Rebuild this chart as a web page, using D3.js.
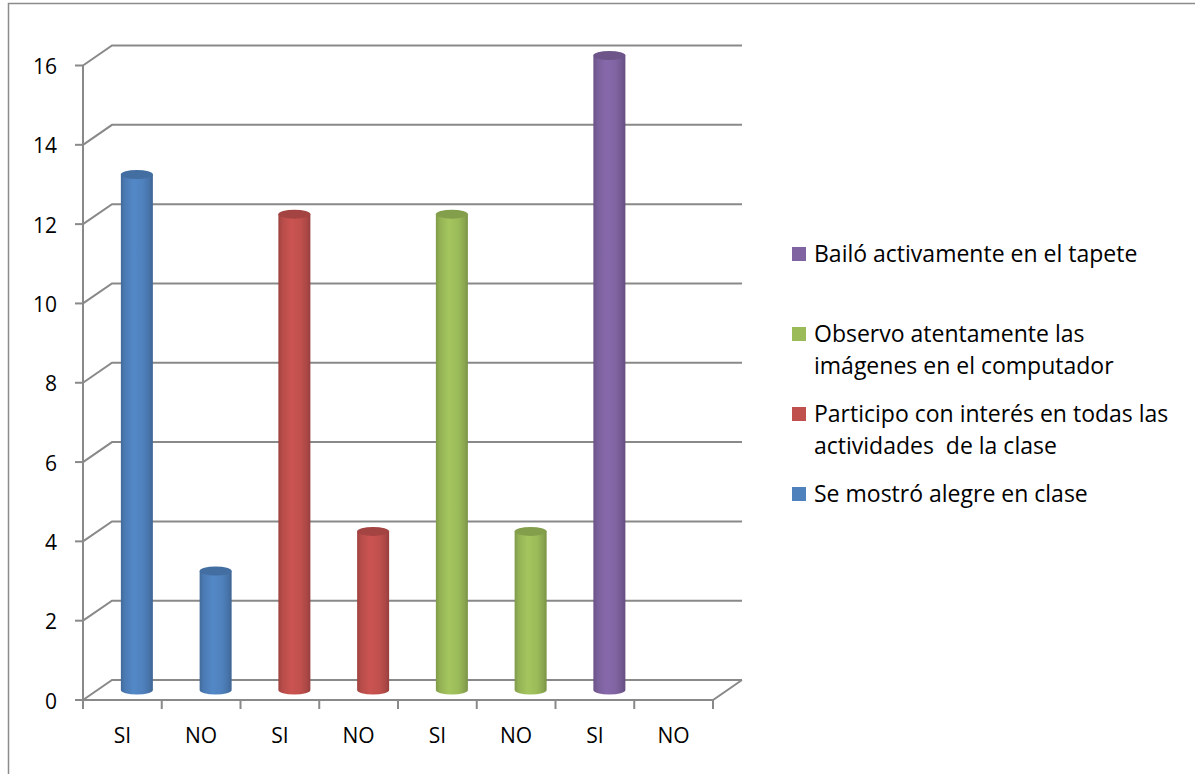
<!DOCTYPE html>
<html><head><meta charset="utf-8">
<script src="https://cdn.jsdelivr.net/npm/d3@7"></script>
<style>body{margin:0;background:#fff}svg{display:block}text{font-family:"Open Sans",Lato,sans-serif;fill:#000;white-space:pre}</style>
</head><body><svg id="c" width="1195" height="774"></svg>
<script>
const categories = ["SI","NO","SI","NO","SI","NO","SI","NO"];
const seriesNames = ["Se mostró alegre en clase","Participo con interés en todas las actividades  de la clase","Observo atentamente las imágenes en el computador","Bailó activamente en el tapete"];
const seriesColors = ["#4F81BD","#C0504D","#9BBB59","#8064A2"];
// value of each category and the series it belongs to
const values = [13, 3, 12, 4, 12, 4, 16, 0];
const seriesOfCategory = [0, 0, 1, 1, 2, 2, 3, 3];
const yTicks = [0,2,4,6,8,10,12,14,16];
const legendLines = [["Bailó activamente en el tapete"],["Observo atentamente las","imágenes en el computador"],["Participo con interés en todas las","actividades  de la clase"],["Se mostró alegre en clase"]];
const legendSeries = [3,2,1,0];

const svg = d3.select("#c");
const DX = 29, DY = -20;
const x0 = 83, x1 = 713;
const y = d3.scaleLinear().domain([0,16]).range([700, 65.5]);
const x = d3.scaleBand().domain(d3.range(categories.length)).range([x0, x1]).paddingInner(0).paddingOuter(0);
const grid = "#898989";

// outer border
svg.append("rect").attr("x",8.5).attr("y",3.5).attr("width",1300).attr("height",900)
  .attr("fill","none").attr("stroke","#8c8c8c").attr("stroke-width",1.5);

// gradients
const defs = svg.append("defs");
seriesColors.forEach((c,i)=>{
  const base = d3.color(c);
  const g = defs.append("linearGradient").attr("id","g"+i).attr("x1","0").attr("x2","1").attr("y1","0").attr("y2","0");
  [[0, base.darker(0.55)],[0.12, base.darker(0.15)],[0.4, base.brighter(0.15)],[0.7, base],[0.9, base.darker(0.35)],[1, base.darker(0.7)]]
    .forEach(([o,col])=>g.append("stop").attr("offset",o).attr("stop-color",col.formatHex()));
});

// gridlines (back wall + side wall)
const gl = svg.append("g").attr("stroke",grid).attr("stroke-width",2).attr("fill","none");
yTicks.forEach(t=>{
  const yy = y(t);
  gl.append("path").attr("d",`M${x0},${yy}L${x0+DX},${yy+DY}L${x1+DX},${yy+DY}`);
});
// floor
gl.append("path").attr("d",`M${x0},${y(0)}L${x1},${y(0)}L${x1+DX},${y(0)+DY}`);
// y axis line
gl.append("line").attr("x1",x0).attr("x2",x0).attr("y1",y(16)).attr("y2",y(0));
// y ticks
yTicks.forEach(t=>{
  gl.append("line").attr("x1",x0-8).attr("x2",x0).attr("y1",y(t)).attr("y2",y(t));
  svg.append("text").attr("x",57).attr("y",y(t)+1).attr("dy","0.36em").attr("text-anchor","end")
    .style("font-size","21px").text(t);
});
// x ticks
d3.range(categories.length+1).forEach(i=>{
  const xx = x0 + i*x.bandwidth();
  gl.append("line").attr("x1",xx).attr("x2",xx).attr("y1",y(0)).attr("y2",y(0)+9);
});
categories.forEach((c,i)=>{
  svg.append("text").attr("x",x(i)+x.bandwidth()/2).attr("y",743).attr("text-anchor","middle")
    .style("font-size","21px").text(c);
});

// cylinders
const bw = 32, ry = 4.5;
const bars = svg.append("g");
values.forEach((v,i)=>{
  if(!v) return;
  const s = seriesOfCategory[i];
  const cx = x(i) + x.bandwidth()/2 + DX/2;
  const yb = y(0) + DY/2, yt = y(v) + DY/2;
  const g = bars.append("g");
  g.append("path").attr("fill",`url(#g${s})`)
    .attr("d",`M${cx-bw/2},${yt}L${cx-bw/2},${yb}A${bw/2},${ry} 0 0 0 ${cx+bw/2},${yb}L${cx+bw/2},${yt}Z`);
  g.append("ellipse").attr("cx",cx).attr("cy",yt).attr("rx",bw/2).attr("ry",ry)
    .attr("fill",d3.color(seriesColors[s]).darker(0.45).formatHex());
});

// legend
let ly = 254;
legendLines.forEach((lines,k)=>{
  const s = legendSeries[k];
  svg.append("rect").attr("x",792).attr("y",ly-7).attr("width",14).attr("height",14).attr("fill",seriesColors[s]);
  lines.forEach((ln,j)=>{
    svg.append("text").attr("x",814).attr("y",ly+j*32).attr("dy","0.36em").style("font-size","23px").text(ln);
  });
  ly += 80;
});
</script></body></html>
